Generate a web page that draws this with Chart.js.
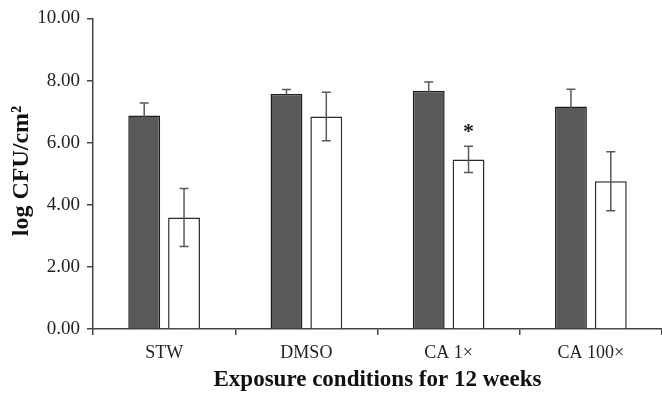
<!DOCTYPE html>
<html>
<head>
<meta charset="utf-8">
<script src="https://cdn.jsdelivr.net/npm/chart.js@4.4.1/dist/chart.umd.min.js"></script>
<style>
  body { margin: 0; background: #fff; }
</style>
</head>
<body>
<canvas id="chart" width="662" height="397"></canvas>
<script>
// donnees
const categories = ['STW', 'DMSO', 'CA 1×', 'CA 100×'];
const seriesA = [6.87, 7.57, 7.67, 7.16];
const errorA = [0.41, 0.14, 0.28, 0.56];
const seriesB = [3.59, 6.84, 5.46, 4.76];
const errorB = [0.93, 0.78, 0.42, 0.95];
const marksB = ['', '', '*', ''];
const yTicks = ['0.00', '2.00', '4.00', '6.00', '8.00', '10.00'];

const serif = "'Liberation Serif', 'Times New Roman', serif";
const axisColor = '#444';

// barres d'erreur + asterisque
const errorBars = {
    id: 'errorBars',
    afterDatasetsDraw(chart) {
        const ctx = chart.ctx;
        const y = chart.scales.y;
        const errs = [errorA, errorB];
        ctx.save();
        ctx.strokeStyle = '#595959';
        ctx.lineWidth = 1.5;
        chart.data.datasets.forEach((ds, i) => {
            const meta = chart.getDatasetMeta(i);
            meta.data.forEach((bar, j) => {
                const v = ds.data[j];
                const e = errs[i][j];
                const top = y.getPixelForValue(v + e);
                const bot = y.getPixelForValue(v - e);
                ctx.beginPath();
                ctx.moveTo(bar.x, top);
                ctx.lineTo(bar.x, bot);
                ctx.moveTo(bar.x - 4.5, top);
                ctx.lineTo(bar.x + 4.5, top);
                ctx.moveTo(bar.x - 4.5, bot);
                ctx.lineTo(bar.x + 4.5, bot);
                ctx.stroke();
                if (i === 1 && marksB[j]) {
                    ctx.fillStyle = '#222';
                    ctx.font = 'bold 22px ' + serif;
                    ctx.textAlign = 'center';
                    ctx.textBaseline = 'alphabetic';
                    ctx.fillText(marksB[j], bar.x, top - 8);
                }
            });
        });
        ctx.restore();
    }
};

// titre de l'axe y
const yTitle = {
    id: 'yTitle',
    afterDraw(chart) {
        const ctx = chart.ctx;
        ctx.save();
        ctx.translate(22, 171);
        ctx.rotate(-Math.PI / 2);
        ctx.fillStyle = '#111';
        ctx.font = 'bold 24px ' + serif;
        ctx.textAlign = 'center';
        ctx.textBaseline = 'middle';
        ctx.fillText('log CFU/cm²', 0, 0);
        ctx.restore();
    }
};

const data = {
    labels: categories,
    datasets: [
        {
            data: seriesA,
            backgroundColor: '#595959',
            borderColor: '#1e1e1e',
            borderWidth: 1.5
        },
        {
            data: seriesB,
            backgroundColor: '#ffffff',
            borderColor: '#2a2a2a',
            borderWidth: 1.5
        }
    ]
};

new Chart(document.getElementById('chart'), {
    type: 'bar',
    data: data,
    options: {
        responsive: false,
        animation: false,
        layout: { padding: { top: 16, right: 0, bottom: 0, left: 0 } },
        plugins: { legend: { display: false }, tooltip: { enabled: false } },
        datasets: { bar: { categoryPercentage: 0.56, barPercentage: 0.8 } },
        scales: {
            x: {
                grid: { drawOnChartArea: false, offset: true, tickLength: 6, color: axisColor, lineWidth: 1.5 },
                border: { color: axisColor, width: 1.5 },
                ticks: { color: '#222', font: { family: serif, size: 18 }, padding: 7 },
                title: {
                    display: true,
                    text: 'Exposure conditions for 12 weeks',
                    color: '#111',
                    font: { family: serif, size: 23, weight: 'bold' },
                    padding: { top: 0, bottom: 3 }
                },
                afterFit: s => { s.height = 68; }
            },
            y: {
                min: 0,
                max: 10,
                grid: { drawOnChartArea: false, tickLength: 6, color: axisColor, lineWidth: 1.5 },
                border: { color: axisColor, width: 1.5 },
                ticks: {
                    stepSize: 2,
                    color: '#222',
                    font: { family: serif, size: 19 },
                    padding: 7,
                    callback: (v) => yTicks[v / 2]
                },
                afterFit: s => { s.width = 93; }
            }
        }
    },
    plugins: [errorBars, yTitle]
});
</script>
</body>
</html>
